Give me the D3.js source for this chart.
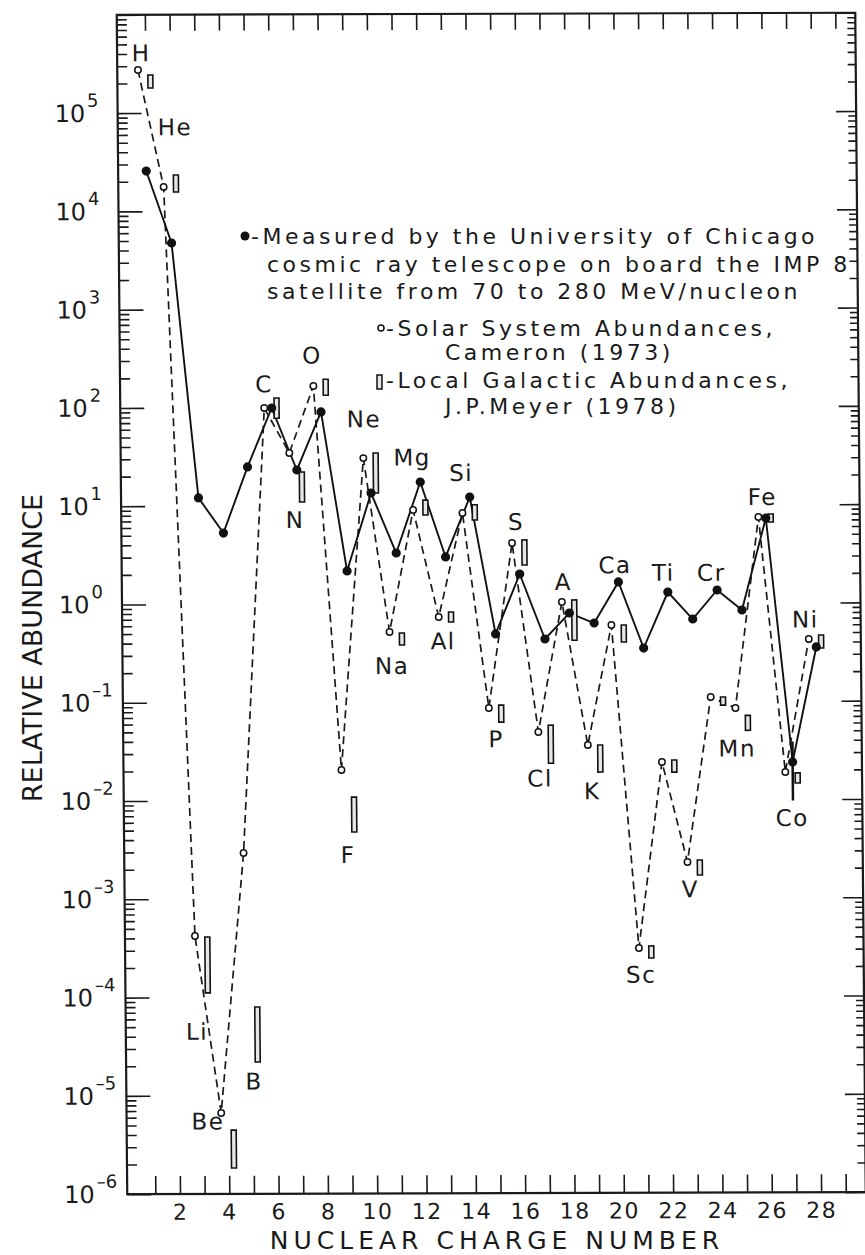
<!DOCTYPE html>
<html>
<head>
<meta charset="utf-8">
<script src="https://cdnjs.cloudflare.com/ajax/libs/d3/7.8.5/d3.min.js"></script>
<style>
  body { margin: 0; background: #fff; }
  svg { display: block; font-family: "DejaVu Sans", sans-serif; fill: #1a1a1a; }
  .axis line { stroke: #1a1a1a; stroke-width: 1.6; }
  .axis .domain { display: none; }
  .axis text { font-family: "DejaVu Sans", sans-serif; font-size: 22px; fill: #1a1a1a; letter-spacing: 1.5px; }
  .lbl { font-size: 23px; letter-spacing: 1.5px; }
  .legend { font-size: 22px; letter-spacing: 3.5px; }
</style>
</head>
<body>
<svg width="865" height="1255"></svg>
<script>
// nuclear charge and element names
var charge   = [1, 2, 3, 4, 5, 6, 7, 8, 9, 10, 11, 12, 13, 14, 15, 16, 17, 18, 19, 20, 21, 22, 23, 24, 25, 26, 27, 28];
var elements = ["H","He","Li","Be","B","C","N","O","F","Ne","Na","Mg","Al","Si","P","S","Cl","A","K","Ca","Sc","Ti","V","Cr","Mn","Fe","Co","Ni"];

// U. Chicago IMP 8, 70-280 MeV/nucleon
var measured = [2.57e4, 4.75e3, 12.1, 5.3, 24.9, 98.9, 23.1, 89.8, 2.16, 13.4, 3.28, 17.3, 2.98, 12.1,
                0.489, 1.99, 0.433, 0.795, 0.628, 1.64, 0.348, 1.29, 0.685, 1.35, 0.844, 7.27, 0.0239, 0.353];
// error bar shown on Co
var errZ = [27], errLow = [0.00967], errHigh = [0.0385];

// Cameron (1973) solar system abundances
var solar = [2.74e5, 1.77e4, 4.21e-4, 6.65e-6, 2.94e-3, 98.9, 34.4, 165, 0.0204, 30.4, 0.516, 8.97, 0.73, 8.34,
             0.0863, 4.12, 0.049, 1.03, 0.036, 0.598, 3.09e-4, 0.0241, 2.31e-3, 0.11, 0.0849, 7.44, 0.0189, 0.425];

// J.P. Meyer (1978) local galactic abundances (ranges)
var meyerLow  = [1.8e5, 1.57e4, 1.11e-4, 1.83e-6, 2.19e-5, 77.8, 10.9, 133, 4.77e-3, 13.4, 0.38, 7.97, 0.65, 7.08,
                 0.062, 2.46, 0.0236, 0.42, 0.0191, 0.402, 2.44e-4, 0.019, 1.7e-3, 0.091, 0.0503, 6.62, 0.0146, 0.344];
var meyerHigh = [2.44e5, 2.34e4, 4.12e-4, 4.45e-6, 7.96e-5, 125, 22.0, 193, 0.0108, 34.2, 0.504, 11.3, 0.821, 10.1,
                 0.0923, 4.42, 0.0575, 1.08, 0.036, 0.598, 3.24e-4, 0.0252, 2.42e-3, 0.11, 0.0714, 7.98, 0.0185, 0.467];

// where each element name sits (charge, abundance)
var labelZ   = [0.83, 2.18, 2.75, 3.16, 5.04, 5.70, 6.91, 7.66, 8.94, 9.74, 10.79, 11.68, 12.87, 13.66,
                14.98, 15.87, 16.75, 17.76, 18.86, 19.87, 20.78, 21.82, 22.80, 23.77, 24.76, 25.86, 26.96, 27.56];
var labelAt  = [4.1e5, 7.2e4, 4.5e-5, 5.5e-6, 1.4e-5, 174, 7.2, 339, 2.8e-3, 76, 0.234, 31, 0.417, 21.4,
                0.0417, 6.76, 0.0166, 1.66, 0.0123, 2.45, 1.66e-4, 2.04, 1.23e-3, 2.04, 0.0331, 12.0, 6.46e-3, 0.676];

var xTicks = [1, 2, 3, 4, 5, 6, 7, 8, 9, 10, 11, 12, 13, 14, 15, 16, 17, 18, 19, 20, 21, 22, 23, 24, 25, 26, 27, 28, 29];
var yExponents = [5, 4, 3, 2, 1, 0, -1, -2, -3, -4, -5, -6];

var svg = d3.select("svg"),
    plotW = 738.5,
    plotH = 1179.3;

// the scanned page is slightly skewed
var g = svg.append("g")
    .attr("transform", "matrix(1,-0.002844,0.0089,1,116.75,14.85)");

var x = d3.scaleLinear().domain([-0.14, 29.81]).range([0, plotW]);
var y = d3.scaleLog().domain([1e-6, 1e6]).range([plotH, 0]);

var allY = y.ticks(100);
var majors = allY.filter(function(d) { return Math.abs(Math.log10(d) - Math.round(Math.log10(d))) < 1e-9; });
var minors = allY.filter(function(d) { return majors.indexOf(d) < 0; });

// axes
g.append("g").attr("class", "axis")
    .attr("transform", "translate(0," + plotH + ")")
    .call(d3.axisBottom(x).tickValues(xTicks).tickSize(-18).tickSizeOuter(0).tickPadding(10)
        .tickFormat(function(d) { return d % 2 === 0 ? d : ""; }));
g.append("g").attr("class", "axis")
    .call(d3.axisTop(x).tickValues(xTicks).tickSize(-16).tickSizeOuter(0).tickFormat(""));
g.append("g").attr("class", "axis")
    .call(d3.axisLeft(y).tickValues(majors).tickSize(-24).tickSizeOuter(0).tickFormat(""));
g.append("g").attr("class", "axis")
    .call(d3.axisLeft(y).tickValues(minors).tickSize(-10).tickSizeOuter(0).tickFormat(""));
g.append("g").attr("class", "axis")
    .attr("transform", "translate(" + plotW + ",0)")
    .call(d3.axisRight(y).tickValues(majors).tickSize(-20).tickSizeOuter(0).tickFormat(""));
g.append("g").attr("class", "axis")
    .attr("transform", "translate(" + plotW + ",0)")
    .call(d3.axisRight(y).tickValues(minors).tickSize(-8).tickSizeOuter(0).tickFormat(""));

g.append("rect")
    .attr("width", plotW).attr("height", plotH)
    .attr("fill", "none").attr("stroke", "#1a1a1a").attr("stroke-width", 2.2);

// 10^n labels
g.selectAll(".ylab")
    .data(yExponents)
    .enter().append("text")
    .attr("class", "ylab")
    .attr("x", -63)
    .attr("y", function(d) { return y(Math.pow(10, d)); })
    .attr("dy", "0.36em")
    .attr("font-size", "24px")
    .each(function(d) {
        var t = d3.select(this);
        t.append("tspan").text("10");
        t.append("tspan").attr("dx", 2).attr("dy", -15).attr("font-size", "18px")
         .text(d < 0 ? "\u2013" + (-d) : d);
    });

// solar points sit a little left of Z, Meyer bars a little right
var solarX = function(i) { return x(charge[i] - 0.3); };
var meyerX = function(i) { return x(charge[i] + 0.2); };

// solar system: dashed line
g.append("path")
    .datum(solar)
    .attr("fill", "none").attr("stroke", "#1a1a1a").attr("stroke-width", 1.7)
    .attr("stroke-dasharray", "8,5")
    .attr("d", d3.line().x(function(d, i) { return solarX(i); }).y(function(d) { return y(d); }));

// measured: solid line
g.append("path")
    .datum(measured)
    .attr("fill", "none").attr("stroke", "#111").attr("stroke-width", 1.9)
    .attr("d", d3.line().x(function(d, i) { return x(charge[i]); }).y(function(d) { return y(d); }));

// Meyer ranges as narrow open bars
g.selectAll(".meyer")
    .data(meyerLow)
    .enter().append("rect")
    .attr("class", "meyer")
    .attr("x", function(d, i) { return meyerX(i) - 2.5; })
    .attr("width", 5)
    .attr("y", function(d, i) { return Math.min(y(meyerHigh[i]), y(d) - 4); })
    .attr("height", function(d, i) { return Math.max(y(d) - y(meyerHigh[i]), 4); })
    .attr("fill", "#e6e6e6").attr("stroke", "#111").attr("stroke-width", 1.6);

g.selectAll(".err")
    .data(errZ)
    .enter().append("line")
    .attr("x1", function(d) { return x(d); }).attr("x2", function(d) { return x(d); })
    .attr("y1", function(d, i) { return y(errLow[i]); })
    .attr("y2", function(d, i) { return y(errHigh[i]); })
    .attr("stroke", "#111").attr("stroke-width", 2.5);

g.selectAll(".sol")
    .data(solar)
    .enter().append("circle")
    .attr("cx", function(d, i) { return solarX(i); })
    .attr("cy", function(d) { return y(d); })
    .attr("r", 3.2)
    .attr("fill", "#fff").attr("stroke", "#111").attr("stroke-width", 1.5);

g.selectAll(".meas")
    .data(measured)
    .enter().append("circle")
    .attr("cx", function(d, i) { return x(charge[i]); })
    .attr("cy", function(d) { return y(d); })
    .attr("r", 4.6)
    .attr("fill", "#111");

// element names
g.selectAll(".lbl")
    .data(elements)
    .enter().append("text")
    .attr("class", "lbl")
    .attr("x", function(d, i) { return x(labelZ[i]); })
    .attr("y", function(d, i) { return y(labelAt[i]); })
    .attr("dy", "0.36em")
    .attr("text-anchor", "middle")
    .text(function(d) { return d; });

// legend
var leg = svg.append("g").attr("class", "legend");
leg.append("circle").attr("cx", 245).attr("cy", 236).attr("r", 4.5).attr("fill", "#111");
leg.append("text").attr("x", 251).attr("y", 244).text("-Measured by the University of Chicago");
leg.append("text").attr("x", 267).attr("y", 272).text("cosmic ray telescope on board the IMP 8");
leg.append("text").attr("x", 267).attr("y", 299).text("satellite from 70 to 280 MeV/nucleon");
leg.append("circle").attr("cx", 381).attr("cy", 328).attr("r", 3).attr("fill", "#fff").attr("stroke", "#111").attr("stroke-width", 1.5);
leg.append("text").attr("x", 386).attr("y", 336).text("-Solar System Abundances,");
leg.append("text").attr("x", 445).attr("y", 360).text("Cameron (1973)");
leg.append("rect").attr("x", 377).attr("y", 375).attr("width", 5).attr("height", 14).attr("fill", "#e6e6e6").attr("stroke", "#111").attr("stroke-width", 1.5);
leg.append("text").attr("x", 386).attr("y", 388).text("-Local Galactic Abundances,");
leg.append("text").attr("x", 445).attr("y", 414).text("J.P.Meyer (1978)");

// axis titles
svg.append("text")
    .attr("x", 497).attr("y", 1249)
    .attr("text-anchor", "middle")
    .attr("font-size", "25px").attr("letter-spacing", "5px")
    .text("NUCLEAR CHARGE NUMBER");

svg.append("text")
    .attr("transform", "translate(42,648) rotate(-90)")
    .attr("text-anchor", "middle")
    .attr("font-size", "27px")
    .text("RELATIVE ABUNDANCE");
</script>
</body>
</html>
